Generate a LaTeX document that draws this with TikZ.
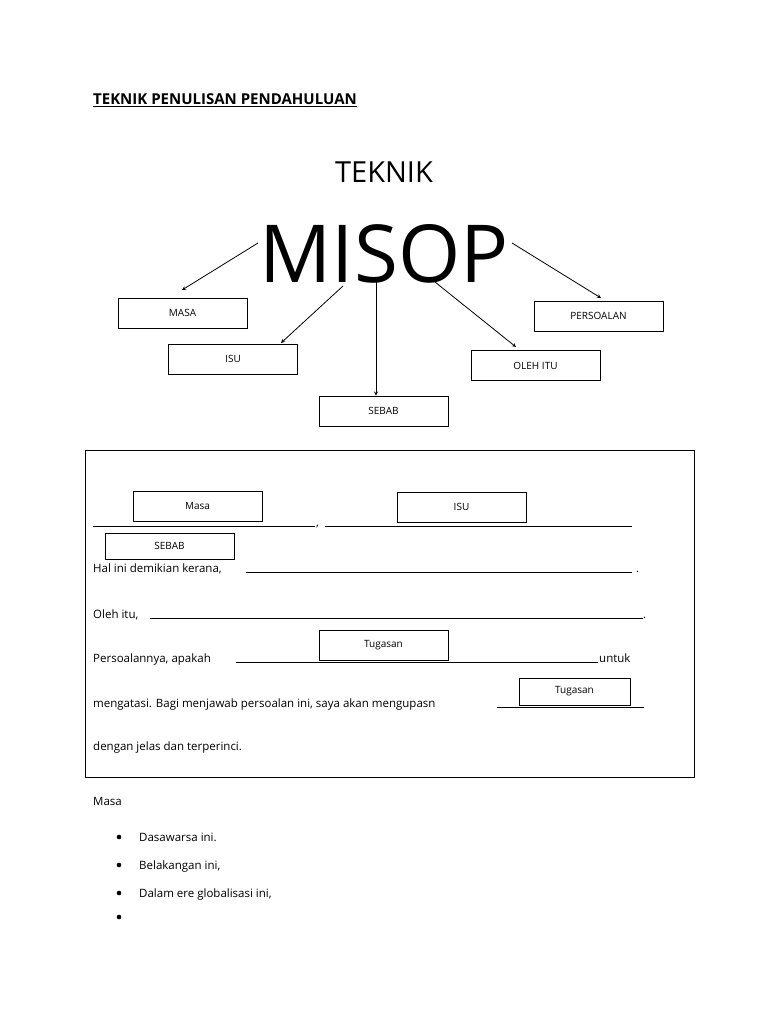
\documentclass[tikz,border=0pt]{standalone}
\usepackage{fontspec}
\setmainfont{Open Sans}
\begin{document}
\begin{tikzpicture}[x=1pt,y=-1pt,
  lbl/.style={draw,line width=0.8pt,minimum width=129pt,minimum height=30pt,inner sep=0pt,font=\fontsize{10}{12}\selectfont},
  txt/.style={anchor=base west,inner sep=0pt,font=\fontsize{11.5}{14}\selectfont},
  arr/.style={-stealth,line width=0.8pt},
  ul/.style={line width=0.6pt}]
\useasboundingbox (0,0) rectangle (768,1024);
\node[anchor=base west,inner sep=0pt,font=\fontsize{15}{18}\selectfont\bfseries] (title) at (93,105) {\underline{TEKNIK PENULISAN PENDAHULUAN}};
\node[inner sep=0pt,font=\fontsize{29}{34}\selectfont] (teknik) at (384,172) {TEKNIK};
\node[inner sep=0pt,font=\fontsize{80}{90}\selectfont] (misop) at (384,254) {MISOP};
\node[lbl] (masa) at (182.5,313) {MASA};
\node[lbl] (isu) at (233,359) {ISU};
\node[lbl] (sebab) at (383.5,411) {SEBAB};
\node[lbl] (oleh) at (535.5,365.5) {OLEH ITU};
\node[lbl] (pers) at (598.5,316) {PERSOALAN};
\coordinate (m1) at (258,243); \coordinate (m2) at (343,286); \coordinate (m3) at (376,280);
\coordinate (m4) at (435,282); \coordinate (m5) at (512,243);
\draw[arr] (m1) -- (182,290);
\draw[arr] (m2) -- (281,343);
\draw[arr] (m3) -- (sebab.north -| m3);
\draw[arr] (m4) -- (516,347);
\draw[arr] (m5) -- (601,298);
\node[draw,line width=0.8pt,minimum width=609pt,minimum height=327pt,inner sep=0pt] (frame) at (389.5,613.5) {};
\node[lbl] (bmasa) at (197.5,506) {Masa};
\node[lbl] (bisu) at (461.5,507) {ISU};
\node[lbl,minimum height=26pt] (bsebab) at (169.5,546) {SEBAB};
\node[lbl] (tug1) at (383.5,645) {Tugasan};
\node[lbl,minimum width=111pt,minimum height=27pt] (tug2) at (574.5,691.5) {Tugasan};
\draw[ul] (93,526) -- (315,526); \node[txt] (c1) at (316,526) {,};
\draw[ul] (325,526) -- (632,526);
\node[txt] (l1) at (93,572) {Hal ini demikian kerana,};
\draw[ul] (246,572) -- (632,572); \node[txt] (d1) at (636,572) {.};
\node[txt] (l2) at (93,618) {Oleh itu,};
\draw[ul] (150,618) -- (643,618); \node[txt] (d2) at (643,618) {.};
\node[txt] (l3) at (93,662) {Persoalannya, apakah};
\draw[ul] (236,662) -- (598,662); \node[txt] (l3b) at (599,662) {untuk};
\node[txt] (l4) at (93,707) {mengatasi. Bagi menjawab persoalan ini, saya akan mengupasn};
\draw[ul] (497,707) -- (644,707);
\node[txt] (l5) at (93,750) {dengan jelas dan terperinci.};
\node[txt] (masa2) at (93,805) {Masa};
\foreach \y/\t/\n in {841/Dasawarsa ini./b1, 869/{Belakangan ini,}/b2, 897/{Dalam ere globalisasi ini,}/b3, 921/{}/b4}{
  \fill (119,\y-4) circle (2.3pt);
  \node[txt] (\n) at (139,\y) {\t};
}
\end{tikzpicture}
\end{document}
